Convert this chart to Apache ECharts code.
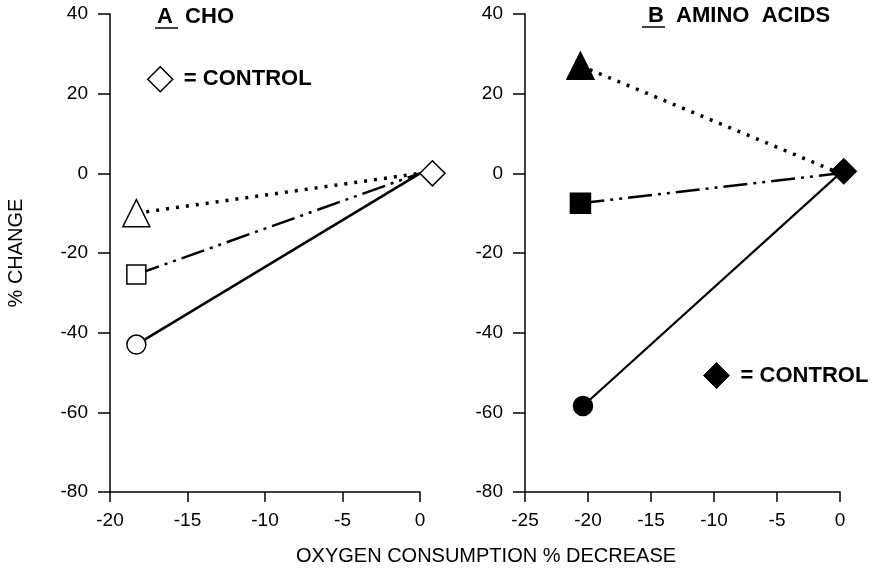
<!DOCTYPE html>
<html>
<head>
<meta charset="utf-8">
<script src="https://cdn.jsdelivr.net/npm/echarts@6/dist/echarts.min.js"></script>
<style>
html,body{margin:0;padding:0;background:#fff;}
#c{width:878px;height:570px;}
</style>
</head>
<body>
<div id="c"></div>
<script>
// ---- data ----
const xTicksA = [-20, -15, -10, -5, 0];
const xTicksB = [-25, -20, -15, -10, -5, 0];
const yTicks = [-80, -60, -40, -20, 0, 20, 40];

// Panel A (CHO): treated points [x, y]
const choCircle = [-18.3, -43];
const choSquare = [-18.3, -25.4];
const choTriangle = [-18.3, -10];
const choControl = [0.8, 0];
// Panel B (amino acids)
const aaCircle = [-20.4, -58.4];
const aaSquare = [-20.6, -7.5];
const aaTriangle = [-20.6, 27];
const aaControl = [0.3, 0.5];
const origin = [0, 0];

const FONT = '"Liberation Sans", Arial, Helvetica, sans-serif';

function lineSeries(idx, pt, symbol, size, filled, dash, width) {
  return {
    type: 'line',
    xAxisIndex: idx, yAxisIndex: idx,
    data: [
      { value: pt },
      { value: origin, symbol: 'none' }
    ],
    symbol: symbol,
    symbolSize: size,
    showSymbol: true,
    clip: false,
    z: 3,
    itemStyle: { color: filled ? '#000' : '#fff', borderColor: '#000', borderWidth: 1.5, opacity: 1 },
    lineStyle: { color: '#000', width: width, type: dash, cap: 'butt', opacity: 1 },
    emphasis: { disabled: true },
    animation: false
  };
}

const chart = echarts.init(document.getElementById('c'));
const axisCommon = {
  type: 'value',
  axisLine: { show: true, onZero: false, lineStyle: { color: '#000', width: 1.5 } },
  axisTick: { show: true, inside: false, lineStyle: { color: '#000', width: 1.5 } },
  splitLine: { show: false },
  axisLabel: { color: '#000', fontSize: 19, fontFamily: FONT }
};
const dotted = [3, 7];
const dashDotDot = [24, 6, 3, 6, 3, 6];

function xAxisCfg(grid, ticks) {
  return Object.assign({}, axisCommon, { gridIndex: grid, min: ticks[0], max: ticks[ticks.length - 1], interval: 5,
    axisTick: Object.assign({}, axisCommon.axisTick, { length: 10 }),
    axisLabel: Object.assign({}, axisCommon.axisLabel, { margin: 19 }) });
}
function yAxisCfg(grid) {
  return Object.assign({}, axisCommon, { gridIndex: grid, min: yTicks[0], max: yTicks[yTicks.length - 1], interval: 20,
    axisTick: Object.assign({}, axisCommon.axisTick, { length: 12 }),
    axisLabel: Object.assign({}, axisCommon.axisLabel, { margin: 22 }) });
}
const yA = yAxisCfg(0);
yA.name = '% CHANGE';
yA.nameLocation = 'middle';
yA.nameGap = 84;
yA.nameTextStyle = { color: '#000', fontSize: 20, fontFamily: FONT };

chart.setOption({
  animation: false,
  grid: [
    { left: 110, top: 14, width: 310, height: 478 },
    { left: 525, top: 14, width: 315, height: 478 }
  ],
  xAxis: [xAxisCfg(0, xTicksA), xAxisCfg(1, xTicksB)],
  yAxis: [yA, yAxisCfg(1)],
  legend: [
    { data: ['CONTROL A'], left: 147, top: 66, padding: 0, icon: 'diamond', itemWidth: 25, itemHeight: 25,
      selectedMode: false, formatter: () => ' = CONTROL',
      itemStyle: { color: '#fff', borderColor: '#000', borderWidth: 1.5, opacity: 1 },
      textStyle: { color: '#000', fontSize: 22, fontWeight: 'bold', fontFamily: FONT } },
    { data: ['CONTROL B'], left: 703, top: 362, padding: 0, icon: 'diamond', itemWidth: 26, itemHeight: 26,
      selectedMode: false, formatter: () => ' = CONTROL',
      itemStyle: { color: '#000', borderColor: '#000', borderWidth: 1, opacity: 1 },
      textStyle: { color: '#000', fontSize: 22, fontWeight: 'bold', fontFamily: FONT } }
  ],
  graphic: [
    { type: 'text', left: 157, top: 6, style: { text: 'A  CHO', fill: '#000', font: 'bold 22px ' + FONT } },
    { type: 'line', shape: { x1: 155, y1: 28, x2: 178, y2: 28 }, style: { stroke: '#000', lineWidth: 1.5 } },
    { type: 'text', left: 648, top: 5, style: { text: 'B  AMINO  ACIDS', fill: '#000', font: 'bold 22px ' + FONT } },
    { type: 'line', shape: { x1: 642, y1: 27, x2: 665, y2: 27 }, style: { stroke: '#000', lineWidth: 1.5 } },
    { type: 'text', left: 296, top: 546, style: { text: 'OXYGEN CONSUMPTION % DECREASE', fill: '#000', font: '20px ' + FONT } }
  ],
  series: [
    lineSeries(0, choCircle, 'circle', 19, false, 'solid', 2.5),
    lineSeries(0, choSquare, 'rect', 19, false, dashDotDot, 2.5),
    lineSeries(0, choTriangle, 'triangle', 27, false, dotted, 3.5),
    { type: 'scatter', name: 'CONTROL A', xAxisIndex: 0, yAxisIndex: 0, data: [choControl], symbol: 'diamond',
      symbolSize: 25, clip: false, z: 5,
      itemStyle: { color: '#fff', borderColor: '#000', borderWidth: 1.5, opacity: 1 } },
    lineSeries(1, aaCircle, 'circle', 19, true, 'solid', 2.2),
    lineSeries(1, aaSquare, 'rect', 20, true, dashDotDot, 2.5),
    lineSeries(1, aaTriangle, 'triangle', 27, true, dotted, 3.5),
    { type: 'scatter', name: 'CONTROL B', xAxisIndex: 1, yAxisIndex: 1, data: [aaControl], symbol: 'diamond',
      symbolSize: 26, clip: false, z: 5,
      itemStyle: { color: '#000', borderColor: '#000', borderWidth: 1, opacity: 1 } }
  ]
});
</script>
</body>
</html>
